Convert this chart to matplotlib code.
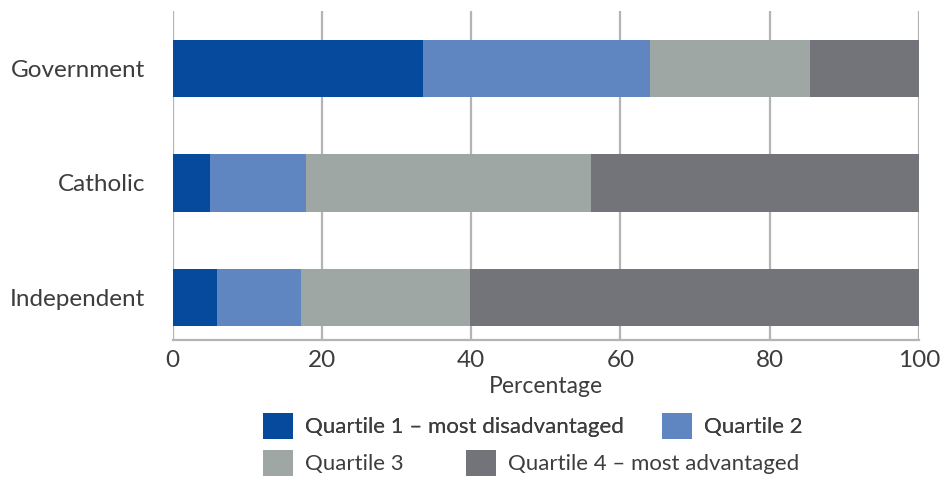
import matplotlib
matplotlib.use("Agg")
import matplotlib.pyplot as plt
from matplotlib.patches import Patch
import numpy as np

plt.rcParams['font.family'] = ['Lato', 'DejaVu Sans']
plt.rcParams['font.weight'] = 'normal'

sectors = ["Government", "Catholic", "Independent"]
series_names = ["Quartile 1 – most disadvantaged", "Quartile 2",
                "Quartile 3", "Quartile 4 – most advantaged"]
q1 = [33.5, 5.0, 5.9]
q2 = [30.5, 12.8, 11.3]
q3 = [21.4, 38.2, 22.6]
q4 = [14.6, 44.0, 60.2]
colors = ["#054A9C", "#5F86C1", "#9FA7A5", "#737479"]
xticks = [0, 20, 40, 60, 80, 100]

text_color = "#3d3d3d"
grid_color = "#b4b4b4"

fig = plt.figure(figsize=(9.44, 4.83), dpi=100)
ax = fig.add_axes([172.7/944, 1-340/483, (919-172.7)/944, (340-11)/483])

y = np.arange(len(sectors))
left = np.zeros(len(sectors))
handles = []
for vals, c, name in zip([q1, q2, q3, q4], colors, series_names):
    ax.barh(y, vals, left=left, height=0.5, color=c, edgecolor='none', zorder=3)
    left += np.array(vals)
    handles.append(Patch(facecolor=c, edgecolor='none', label=name))

ax.set_xlim(0, 100)
ax.set_ylim(2.37, -0.5)
ax.set_yticks(y)
ax.set_yticklabels(sectors, fontsize=17.5, color=text_color)
ax.set_xticks(xticks)
ax.set_xticklabels([str(t) for t in xticks], fontsize=17.5, color=text_color)
ax.tick_params(axis='both', length=0)
ax.tick_params(axis='y', pad=20)
ax.tick_params(axis='x', pad=7)
ax.xaxis.grid(True, color=grid_color, linewidth=1.6, zorder=0)
ax.set_axisbelow(True)
for s in ['top', 'right', 'left']:
    ax.spines[s].set_visible(False)
ax.spines['bottom'].set_color(grid_color)
ax.spines['bottom'].set_linewidth(1.6)
ax.set_xlabel("Percentage", fontsize=16.5, color=text_color, labelpad=4)

fs = 16
prop = {'family': 'Lato', 'weight': 'normal', 'size': fs}
leg1 = fig.legend(handles=handles[:2], loc='upper left',
                  bbox_to_anchor=(263/944, 1-413/483), ncol=2, frameon=False,
                  prop=prop, handlelength=1.35, handleheight=1.4,
                  handletextpad=0.55, columnspacing=1.7, borderpad=0,
                  borderaxespad=0, labelcolor=text_color)
leg2 = fig.legend(handles=handles[2:], loc='upper left',
                  bbox_to_anchor=(263/944, 1-450/483), ncol=2, frameon=False,
                  prop=prop, handlelength=1.35, handleheight=1.4,
                  handletextpad=0.55, columnspacing=2.8, borderpad=0,
                  borderaxespad=0, labelcolor=text_color)
fig.add_artist(leg1)

fig.savefig("out.png", dpi=100)
